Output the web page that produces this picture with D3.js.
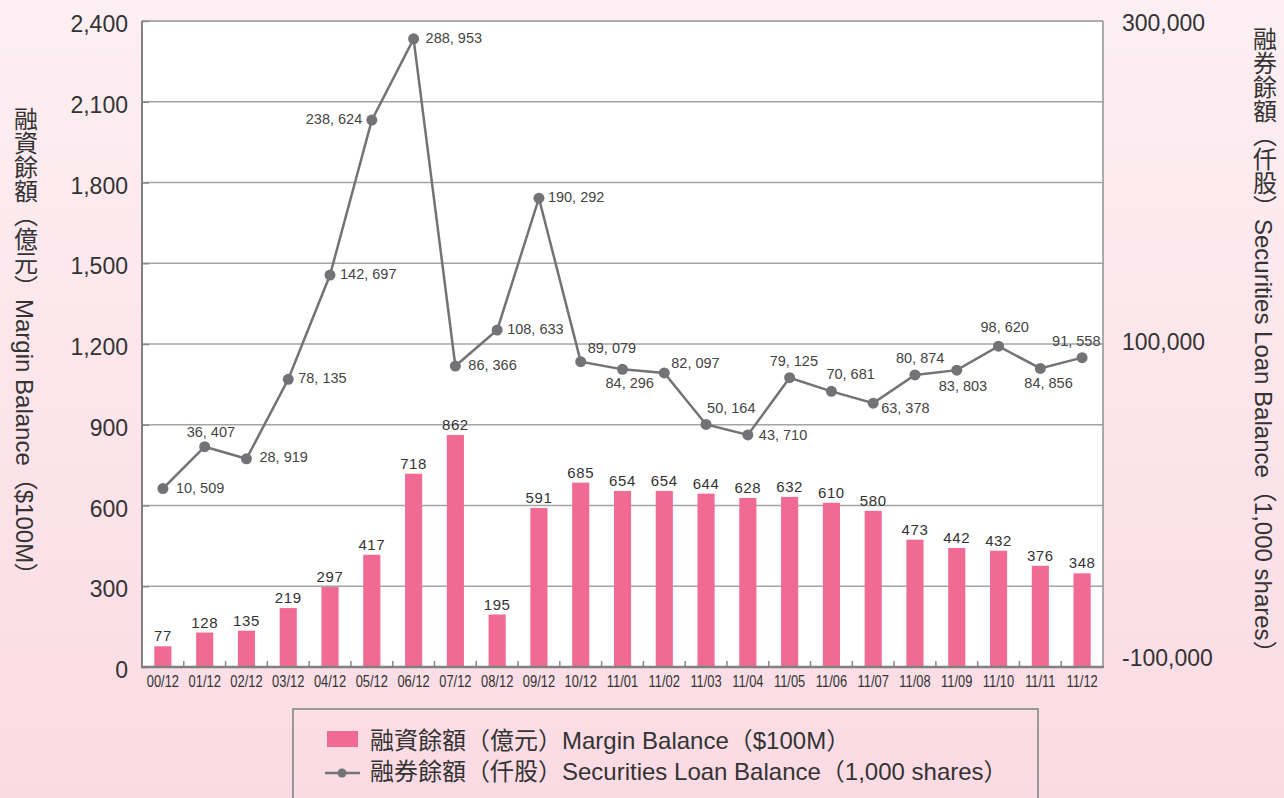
<!DOCTYPE html>
<html><head><meta charset="utf-8">
<script src="https://cdn.jsdelivr.net/npm/d3@7"></script>
<style>
html,body{margin:0;padding:0;}
body{width:1284px;height:798px;overflow:hidden;}
svg text{text-spacing-trim:space-all;}
</style></head>
<body>
<svg id="chart" width="1284" height="798"></svg>
<script>
const categories = ["00/12","01/12","02/12","03/12","04/12","05/12","06/12","07/12","08/12","09/12","10/12","11/01","11/02","11/03","11/04","11/05","11/06","11/07","11/08","11/09","11/10","11/11","11/12"];
const marginBalance = [77,128,135,219,297,417,718,862,195,591,685,654,654,644,628,632,610,580,473,442,432,376,348];
const loanBalance = [10509,36407,28919,78135,142697,238624,288953,86366,108633,190292,89079,84296,82097,50164,43710,79125,70681,63378,80874,83803,98620,84856,91558];
const leftTicks = [0,300,600,900,1200,1500,1800,2100,2400];
const rightTicks = [-100000,100000,300000];
const leftTitle = "融資餘額（億元）Margin Balance（$100M）";
const rightTitle = "融券餘額（仟股）Securities Loan Balance（1,000 shares）";
const legendBar = "融資餘額（億元）Margin Balance（$100M）";
const legendLine = "融券餘額（仟股）Securities Loan Balance（1,000 shares）";

// layout: label offsets for line point labels [dx of label left edge, dy of label center]
const loanLabelOffsets = [[13,1],[-18,-14],[13,-1],[10,0],[10,0],[-66,0],[12,0],[13,0],[10,0],[9,0],[7,-12],[-17,15],[7,-9],[1,-15],[11,1],[-20,-16],[-5,-16],[8,6],[-19,-16],[-18,17],[-18,-18],[-16,16],[-30,-15]];

const svg = d3.select("#chart");
const W = 1284, H = 798;
const L = 142, R = 1103, T = 21, B = 667;
const latin = "'Liberation Sans', Arial, 'Noto Sans CJK TC', sans-serif";
const fmtNum = d=>d3.format(",")(d).replace("\u2212","-");

const defs = svg.append("defs");
const g = defs.append("linearGradient").attr("id","bg").attr("x1",0).attr("y1",0).attr("x2",0).attr("y2",1);
g.append("stop").attr("offset","0%").attr("stop-color","#fdeff3");
g.append("stop").attr("offset","100%").attr("stop-color","#fbdbe3");
svg.append("rect").attr("width",W).attr("height",H).attr("fill","url(#bg)");

const x = d3.scaleBand().domain(categories).range([L,R]).padding(0);
const yL = d3.scaleLinear().domain([0,2400]).range([B,T]);
const yR = d3.scaleLinear().domain([-100000,300000]).range([B,T]);

// plot background
svg.append("rect").attr("x",L).attr("y",T).attr("width",R-L).attr("height",B-T).attr("fill","#fff");

// gridlines
svg.append("g").selectAll("line").data(leftTicks.filter(d=>d>0&&d<2400)).join("line")
  .attr("x1",L).attr("x2",R).attr("y1",d=>yL(d)).attr("y2",d=>yL(d))
  .attr("stroke","#a4a4a4").attr("stroke-width",1.5);

// left axis ticks (inside)
const axL = svg.append("g").attr("transform",`translate(${L},0)`)
  .call(d3.axisRight(yL).tickValues(leftTicks).tickSize(7).tickFormat(""));
axL.select(".domain").remove();
axL.selectAll("line").attr("stroke","#888").attr("stroke-width",1.5);

// left tick labels
svg.append("g").selectAll("text").data(leftTicks).join("text")
  .attr("x",128).attr("y",d=>yL(d)+5).attr("text-anchor","end").attr("dominant-baseline","middle")
  .attr("font-family",latin).attr("font-size",23).attr("fill","#333")
  .text(fmtNum);

// right tick labels
svg.append("g").selectAll("text").data(rightTicks).join("text")
  .attr("x",1122).attr("y",d=>Math.max(25,Math.min(660,yR(d)))).attr("dominant-baseline","middle")
  .attr("font-family",latin).attr("font-size",23).attr("fill","#333")
  .text(fmtNum);

// bars
const bw = x.bandwidth()*0.41;
svg.append("g").selectAll("rect").data(marginBalance).join("rect")
  .attr("x",(d,i)=>x(categories[i])+x.bandwidth()/2-bw/2)
  .attr("y",d=>yL(d)).attr("width",bw).attr("height",d=>B-yL(d))
  .attr("fill","#f06a94");
svg.append("g").selectAll("text").data(marginBalance).join("text")
  .attr("x",(d,i)=>x(categories[i])+x.bandwidth()/2).attr("y",d=>yL(d)-5)
  .attr("text-anchor","middle").attr("font-family",latin).attr("font-size",15).attr("letter-spacing",0.6)
  .attr("fill","#333").text(d=>d);

// x axis ticks (at boundaries, inside)
svg.append("g").selectAll("line").data(categories.slice(1)).join("line")
  .attr("x1",d=>x(d)).attr("x2",d=>x(d)).attr("y1",B).attr("y2",B-6)
  .attr("stroke","#888").attr("stroke-width",1.5);
svg.append("g").selectAll("text").data(categories).join("text")
  .attr("transform",d=>`translate(${x(d)+x.bandwidth()/2},683) scale(0.76,1)`)
  .attr("text-anchor","middle").attr("dominant-baseline","middle")
  .attr("font-family",latin).attr("font-size",17).attr("fill","#333")
  .text(d=>d);

// plot frame
svg.append("line").attr("x1",R).attr("x2",R).attr("y1",T).attr("y2",B).attr("stroke","#909090").attr("stroke-width",1.5);
svg.append("line").attr("x1",L).attr("x2",R).attr("y1",T).attr("y2",T).attr("stroke","#909090").attr("stroke-width",1.5);
svg.append("line").attr("x1",L).attr("x2",L).attr("y1",T).attr("y2",B).attr("stroke","#808080").attr("stroke-width",2);
svg.append("line").attr("x1",L-1).attr("x2",R+1).attr("y1",B).attr("y2",B).attr("stroke","#808080").attr("stroke-width",2.5);

// line series
const lineColor = "#737377";
const px = i=>x(categories[i])+x.bandwidth()/2;
const line = d3.line().x((d,i)=>px(i)).y(d=>yR(d));
svg.append("path").datum(loanBalance).attr("d",line).attr("fill","none").attr("stroke",lineColor).attr("stroke-width",2.5);
svg.append("g").selectAll("circle").data(loanBalance).join("circle")
  .attr("cx",(d,i)=>px(i)).attr("cy",d=>yR(d)).attr("r",5.5).attr("fill",lineColor);
const fmtLoan = d=>d3.format(",")(d).replace(",",", ");
svg.append("g").selectAll("text").data(loanBalance).join("text")
  .attr("x",(d,i)=>px(i)+loanLabelOffsets[i][0]).attr("y",(d,i)=>yR(d)+loanLabelOffsets[i][1])
  .attr("dominant-baseline","middle").attr("font-family",latin).attr("font-size",14.5).attr("fill","#444")
  .text(fmtLoan);

// axis titles (vertical writing)
svg.append("text").attr("x",24).attr("y",107).style("writing-mode","vertical-rl")
  .attr("font-family",latin).attr("font-size",24).attr("fill","#333").text(leftTitle);
svg.append("text").attr("x",1263).attr("y",27).style("writing-mode","vertical-rl")
  .attr("font-family",latin).attr("font-size",24).attr("fill","#333").text(rightTitle);

// legend
svg.append("rect").attr("x",293).attr("y",709).attr("width",745).attr("height",120)
  .attr("fill","none").attr("stroke","#999").attr("stroke-width",2);
svg.append("rect").attr("x",327).attr("y",731).attr("width",31).attr("height",16).attr("fill","#f06a94");
svg.append("line").attr("x1",325).attr("x2",360).attr("y1",773).attr("y2",773).attr("stroke",lineColor).attr("stroke-width",2.5);
svg.append("circle").attr("cx",342).attr("cy",773).attr("r",4.5).attr("fill",lineColor);
svg.append("text").attr("x",370).attr("y",743).attr("dominant-baseline","middle")
  .attr("font-family",latin).attr("font-size",24).attr("fill","#333").text(legendBar);
svg.append("text").attr("x",370).attr("y",774).attr("dominant-baseline","middle")
  .attr("font-family",latin).attr("font-size",24).attr("fill","#333").text(legendLine);
</script>
</body></html>
